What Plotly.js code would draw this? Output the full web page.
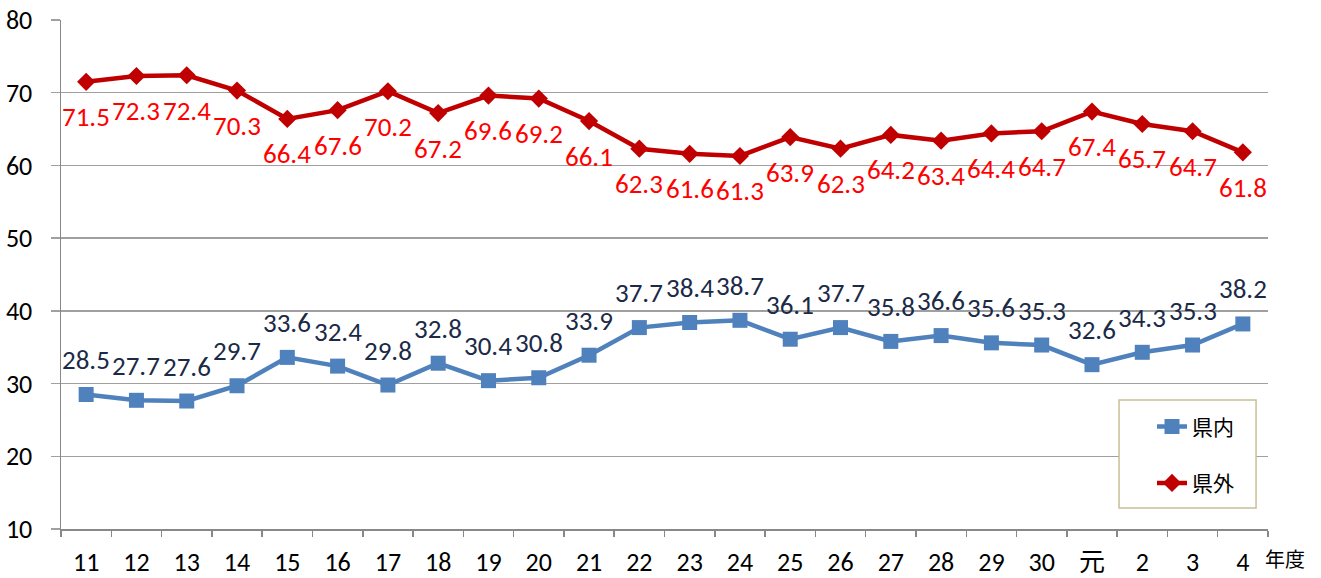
<!DOCTYPE html>
<html><head><meta charset="utf-8">
<script src="https://cdn.plot.ly/plotly-3.0.1.min.js"></script>
<style>body{margin:0;background:#fff}#c{width:1321px;height:578px}</style>
</head><body><div id="c"></div>
<script>
const categories = ['11','12','13','14','15','16','17','18','19','20','21','22','23','24','25','26','27','28','29','30','元','2','3','4'];
const kennai = [28.5,27.7,27.6,29.7,33.6,32.4,29.8,32.8,30.4,30.8,33.9,37.7,38.4,38.7,36.1,37.7,35.8,36.6,35.6,35.3,32.6,34.3,35.3,38.2];
const kengai = [71.5,72.3,72.4,70.3,66.4,67.6,70.2,67.2,69.6,69.2,66.1,62.3,61.6,61.3,63.9,62.3,64.2,63.4,64.4,64.7,67.4,65.7,64.7,61.8];
const yTicks = [10,20,30,40,50,60,70,80];
const FONT = "Carlito, 'Noto Sans CJK JP', sans-serif";
const JP = "'Noto Sans CJK JP', sans-serif";

const traces = [
  {x: categories, y: kennai, name: '県内', type: 'scatter', mode: 'lines+markers',
   line: {color: '#4f81bd', width: 4.5}, marker: {symbol: 'square', size: 15, color: '#4f81bd'},
   legendgroup: 'a', cliponaxis: false},
  {x: categories, y: kengai, name: '県外', type: 'scatter', mode: 'lines+markers',
   line: {color: '#c00000', width: 4.5}, marker: {symbol: 'diamond', size: 14, color: '#c00000'},
   legendgroup: 'b', cliponaxis: false}
];

// data labels: x given as the category index (position on the category axis)
const labels = [];
categories.forEach((c, i) => {
  labels.push({x: i, y: kennai[i], xref: 'x', yref: 'y', text: kennai[i].toFixed(1), showarrow: false,
    yshift: 35, font: {family: FONT, size: 27, color: '#1b2a47'}});
  labels.push({x: i, y: kengai[i], xref: 'x', yref: 'y', text: kengai[i].toFixed(1), showarrow: false,
    yshift: -35, font: {family: FONT, size: 27, color: '#ff0000'}});
});
labels.push({text: '年度', xref: 'paper', yref: 'paper', x: 0.9959, y: -0.057,
  xanchor: 'left', yanchor: 'middle', showarrow: false,
  font: {family: JP, size: 20, color: '#000'}});

const layout = {
  width: 1321, height: 578,
  margin: {l: 61, r: 53, t: 20, b: 49},
  paper_bgcolor: '#fff', plot_bgcolor: '#fff',
  font: {family: FONT, size: 26, color: '#000'},
  showlegend: true,
  legend: {x: 0.9039, y: 0.2408, xanchor: 'left', yanchor: 'top',
    borderwidth: 0, bgcolor: 'rgba(0,0,0,0)',
    font: {family: JP, size: 21, color: '#000'},
    traceorder: 'grouped', tracegroupgap: 26},
  shapes: [{type: 'rect', xref: 'paper', yref: 'paper', x0: 0.8766, x1: 0.9901, y0: 0.0413, y1: 0.2534,
    line: {color: '#c9bf96', width: 1.5}, fillcolor: '#fff', layer: 'above'}],
  xaxis: {type: 'category', range: [-0.5, 23.5], showgrid: false, zeroline: false,
    showline: true, linecolor: '#888', linewidth: 1.5,
    ticks: 'outside', tickson: 'boundaries', ticklen: 6, tickcolor: '#888', tickwidth: 1.5,
    tickfont: {family: FONT, size: 26, color: '#000'}, ticklabelstandoff: 9},
  yaxis: {range: [10, 80], tickvals: yTicks, showgrid: true, gridcolor: '#a0a0a0', gridwidth: 1.3,
    zeroline: false, showline: true, linecolor: '#888', linewidth: 1.5,
    ticks: 'outside', ticklen: 9, tickcolor: '#a0a0a0', tickwidth: 1.3,
    tickfont: {family: FONT, size: 26, color: '#000'}, ticklabelstandoff: 13},
  annotations: labels
};
Plotly.newPlot('c', traces, layout, {displayModeBar: false, staticPlot: true});
</script></body></html>
